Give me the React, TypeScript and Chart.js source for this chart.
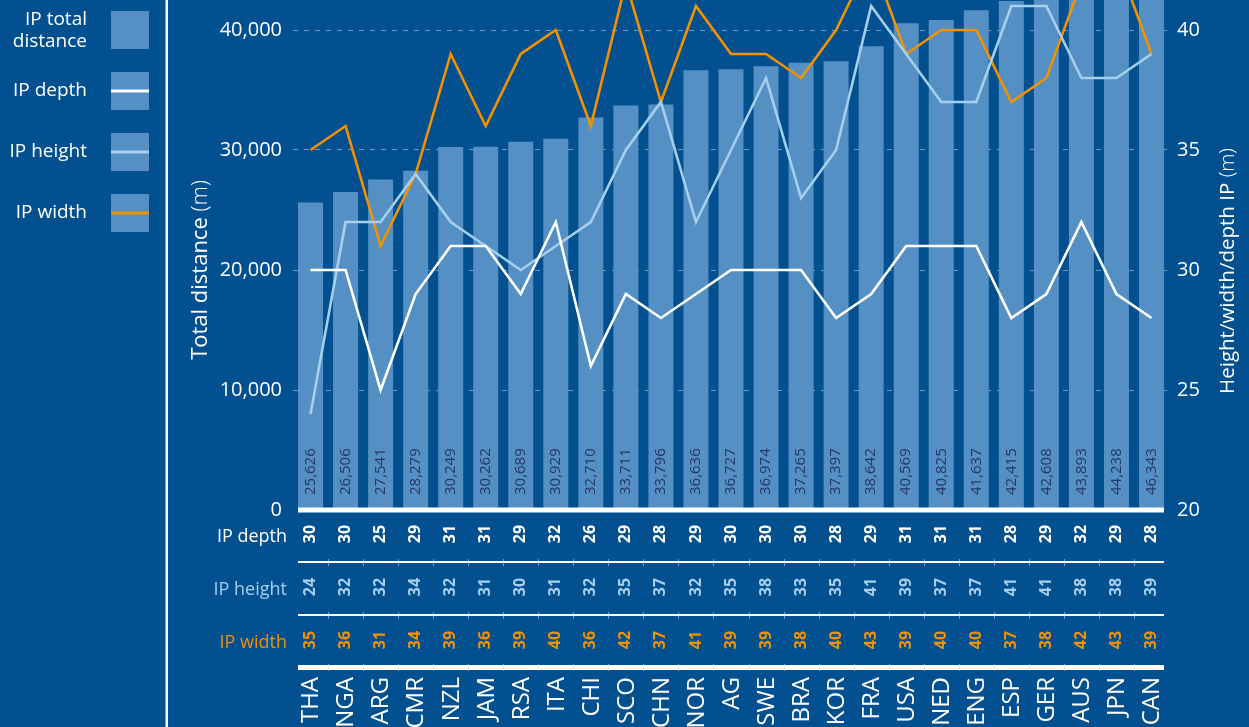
import { useEffect, useRef } from 'react';
import { Chart, registerables } from 'chart.js';

Chart.register(...registerables);

const countries = ['THA', 'NGA', 'ARG', 'CMR', 'NZL', 'JAM', 'RSA', 'ITA', 'CHI', 'SCO', 'CHN', 'NOR', 'AG', 'SWE', 'BRA', 'KOR', 'FRA', 'USA', 'NED', 'ENG', 'ESP', 'GER', 'AUS', 'JPN', 'CAN'];
const totalDistance = [25626, 26506, 27541, 28279, 30249, 30262, 30689, 30929, 32710, 33711, 33796, 36636, 36727, 36974, 37265, 37397, 38642, 40569, 40825, 41637, 42415, 42608, 43893, 44238, 46343];
const ipDepth = [30, 30, 25, 29, 31, 31, 29, 32, 26, 29, 28, 29, 30, 30, 30, 28, 29, 31, 31, 31, 28, 29, 32, 29, 28];
const ipHeight = [24, 32, 32, 34, 32, 31, 30, 31, 32, 35, 37, 32, 35, 38, 33, 35, 41, 39, 37, 37, 41, 41, 38, 38, 39];
const ipWidth = [35, 36, 31, 34, 39, 36, 39, 40, 36, 42, 37, 41, 39, 39, 38, 40, 43, 39, 40, 40, 37, 38, 42, 43, 39];
const leftTicks = [0, 10000, 20000, 30000, 40000];
const rightTicks = [20, 25, 30, 35, 40];
const legendLabels = [['IP total', 'distance'], ['IP depth'], ['IP height'], ['IP width']];
const rowLabels = ['IP depth', 'IP height', 'IP width'];

const BG = '#02508f';
const BAR = '#5490c3';
const LIGHT = '#a6cfee';
const ORANGE = '#f39200';
const WHITE = '#ffffff';
const LABEL_DARK = '#25376a';
const FONT = '"Open Sans", "Noto Sans", sans-serif';

const decorPlugin = {
  id: 'decor',
  beforeDraw(chart: any) {
    const ctx = chart.ctx;
    ctx.save();
    ctx.fillStyle = BG;
    ctx.fillRect(0, 0, chart.width, chart.height);
    ctx.restore();
  },
  afterDatasetDraw(chart: any, args: any) {
    if (args.index !== 0) return;
    const ctx = chart.ctx;
    const meta = chart.getDatasetMeta(0);
    const bottom = chart.chartArea.bottom;
    ctx.save();
    ctx.fillStyle = LABEL_DARK;
    ctx.font = `15px ${FONT}`;
    ctx.textAlign = 'left';
    ctx.textBaseline = 'middle';
    meta.data.forEach((bar: any, i: number) => {
      ctx.save();
      ctx.translate(bar.x, bottom - 15);
      ctx.rotate(-Math.PI / 2);
      ctx.fillText(totalDistance[i].toLocaleString('en-US'), 0, 0);
      ctx.restore();
    });
    ctx.restore();
  },
  afterDraw(chart: any) {
    const ctx = chart.ctx;
    const xs = chart.scales.x;
    const area = chart.chartArea;
    const n = countries.length;
    const meta = chart.getDatasetMeta(0);
    const bw = meta.data[0] ? meta.data[0].width : 25;
    const x0 = xs.getPixelForValue(0) - bw / 2;
    const x1 = xs.getPixelForValue(n - 1) + bw / 2;
    ctx.save();

    // baseline
    ctx.fillStyle = WHITE;
    ctx.fillRect(x0, area.bottom - 2.5, x1 - x0, 5);

    // table dividers
    ctx.fillRect(x0, 561, x1 - x0, 2);
    ctx.fillRect(x0, 614, x1 - x0, 2);
    ctx.fillRect(x0, 665, x1 - x0, 5);

    // faint column separators
    ctx.strokeStyle = 'rgba(200,220,240,0.55)';
    ctx.lineWidth = 1;
    for (let i = 0; i < n - 1; i++) {
      const sx = Math.round((xs.getPixelForValue(i) + xs.getPixelForValue(i + 1)) / 2) + 0.5;
      [562, 615, 667].forEach((y) => {
        ctx.beginPath();
        ctx.moveTo(sx, y - 3);
        ctx.lineTo(sx, y + 4);
        ctx.stroke();
      });
    }

    // table values
    const rows = [
      { data: ipDepth, color: WHITE, y: 534 },
      { data: ipHeight, color: LIGHT, y: 587 },
      { data: ipWidth, color: ORANGE, y: 640 },
    ];
    ctx.textBaseline = 'middle';
    rows.forEach((r, ri) => {
      ctx.font = `bold 16px ${FONT}`;
      ctx.fillStyle = r.color;
      ctx.textAlign = 'center';
      r.data.forEach((v, i) => {
        ctx.save();
        ctx.translate(xs.getPixelForValue(i), r.y);
        ctx.rotate(-Math.PI / 2);
        ctx.fillText(String(v), 0, 0);
        ctx.restore();
      });
      ctx.font = `18px ${FONT}`;
      ctx.textAlign = 'right';
      ctx.fillText(rowLabels[ri], 287, r.y + 3);
    });

    // country labels
    ctx.font = `24px ${FONT}`;
    ctx.fillStyle = WHITE;
    ctx.textAlign = 'right';
    countries.forEach((c, i) => {
      ctx.save();
      ctx.translate(xs.getPixelForValue(i) + 1, 677);
      ctx.rotate(-Math.PI / 2);
      ctx.fillText(c, 0, 0);
      ctx.restore();
    });

    // vertical separator line of legend panel
    ctx.fillStyle = WHITE;
    ctx.fillRect(165.5, 0, 2.5, chart.height);

    // legend
    ctx.font = `19px ${FONT}`;
    ctx.textAlign = 'right';
    ctx.textBaseline = 'middle';
    const lineColors = [null, WHITE, LIGHT, ORANGE];
    legendLabels.forEach((lines, i) => {
      const top = 11 + 61 * i;
      const cy = top + 19;
      ctx.fillStyle = BAR;
      ctx.fillRect(111, top, 38, 38);
      const lc = lineColors[i];
      if (lc) {
        ctx.fillStyle = lc;
        ctx.fillRect(111, cy - 1.5, 38, 3);
      }
      ctx.fillStyle = WHITE;
      if (lines.length === 2) {
        ctx.fillText(lines[0], 87, cy - 10);
        ctx.fillText(lines[1], 87, cy + 12);
      } else {
        ctx.fillText(lines[0], 87, cy);
      }
    });

    // axis titles
    const drawTitle = (cx: number, cy: number, main: string, unit: string, size: number) => {
      ctx.save();
      ctx.translate(cx, cy);
      ctx.rotate(-Math.PI / 2);
      ctx.fillStyle = WHITE;
      ctx.textBaseline = 'middle';
      ctx.textAlign = 'left';
      ctx.font = `${size}px ${FONT}`;
      const w1 = ctx.measureText(main).width;
      ctx.font = `300 ${size}px ${FONT}`;
      const w2 = ctx.measureText(unit).width;
      const start = -(w1 + w2) / 2;
      ctx.font = `${size}px ${FONT}`;
      ctx.fillText(main, start, 0);
      ctx.font = `300 ${size}px ${FONT}`;
      ctx.fillText(unit, start + w1, 0);
      ctx.restore();
    };
    drawTitle(201, 270, 'Total distance ', '(m)', 22);
    drawTitle(1228, 271, 'Height/width/depth IP ', '(m)', 20.5);

    ctx.restore();
  },
};

export default function App() {
  const ref = useRef<HTMLCanvasElement | null>(null);

  useEffect(() => {
    document.body.style.margin = '0';
    document.body.style.background = BG;
    const canvas = ref.current;
    if (!canvas) return;
    const chart = new Chart(canvas, {
      type: 'bar',
      data: {
        labels: countries,
        datasets: [
          {
            type: 'bar',
            label: 'IP total distance',
            data: totalDistance,
            backgroundColor: BAR,
            yAxisID: 'y',
            order: 10,
            barPercentage: 0.7135,
            categoryPercentage: 1,
          },
          {
            type: 'line',
            label: 'IP depth',
            data: ipDepth,
            borderColor: WHITE,
            borderWidth: 2.6,
            pointRadius: 0,
            yAxisID: 'y1',
            order: 1,
            tension: 0,
          },
          {
            type: 'line',
            label: 'IP height',
            data: ipHeight,
            borderColor: LIGHT,
            borderWidth: 2.6,
            pointRadius: 0,
            yAxisID: 'y1',
            order: 2,
            tension: 0,
          },
          {
            type: 'line',
            label: 'IP width',
            data: ipWidth,
            borderColor: ORANGE,
            borderWidth: 2.6,
            pointRadius: 0,
            yAxisID: 'y1',
            order: 3,
            tension: 0,
          },
        ] as any,
      },
      options: {
        responsive: false,
        animation: false,
        devicePixelRatio: 1,
        layout: { padding: { left: 0, right: 0, top: 0, bottom: 217 } },
        plugins: {
          legend: { display: false },
          tooltip: { enabled: false },
        },
        scales: {
          x: {
            display: false,
            offset: true,
            grid: { display: false },
          },
          y: {
            position: 'left',
            min: 0,
            max: 42500,
            afterBuildTicks: (scale: any) => {
              scale.ticks = leftTicks.map((v) => ({ value: v }));
            },
            afterFit: (scale: any) => {
              scale.width = 293;
              scale.paddingTop = 0;
              scale.paddingBottom = 0;
            },
            grid: {
              color: (c: any) => (c.tick && c.tick.value === 0 ? 'rgba(0,0,0,0)' : '#6e9bc8'),
              lineWidth: 1,
              drawTicks: false,
            },
            border: { display: false, dash: [5, 6] },
            ticks: {
              color: WHITE,
              padding: 11,
              font: { family: FONT, size: 20 },
              callback: (v: any) => Number(v).toLocaleString('en-US'),
            },
          },
          y1: {
            position: 'right',
            min: 20,
            max: 41.25,
            afterBuildTicks: (scale: any) => {
              scale.ticks = rightTicks.map((v) => ({ value: v }));
            },
            afterFit: (scale: any) => {
              scale.width = 80;
              scale.paddingTop = 0;
              scale.paddingBottom = 0;
            },
            grid: { display: false, drawTicks: false },
            border: { display: false },
            ticks: {
              color: WHITE,
              padding: 8,
              font: { family: FONT, size: 20 },
              callback: (v: any) => String(v),
            },
          },
        },
      } as any,
      plugins: [decorPlugin],
    });
    return () => chart.destroy();
  }, []);

  return (
    <div style={{ position: 'fixed', left: 0, top: 0, width: 1249, height: 727, background: BG, overflow: 'hidden' }}>
      <canvas ref={ref} width={1249} height={727} style={{ display: 'block', width: 1249, height: 727 }} />
    </div>
  );
}
